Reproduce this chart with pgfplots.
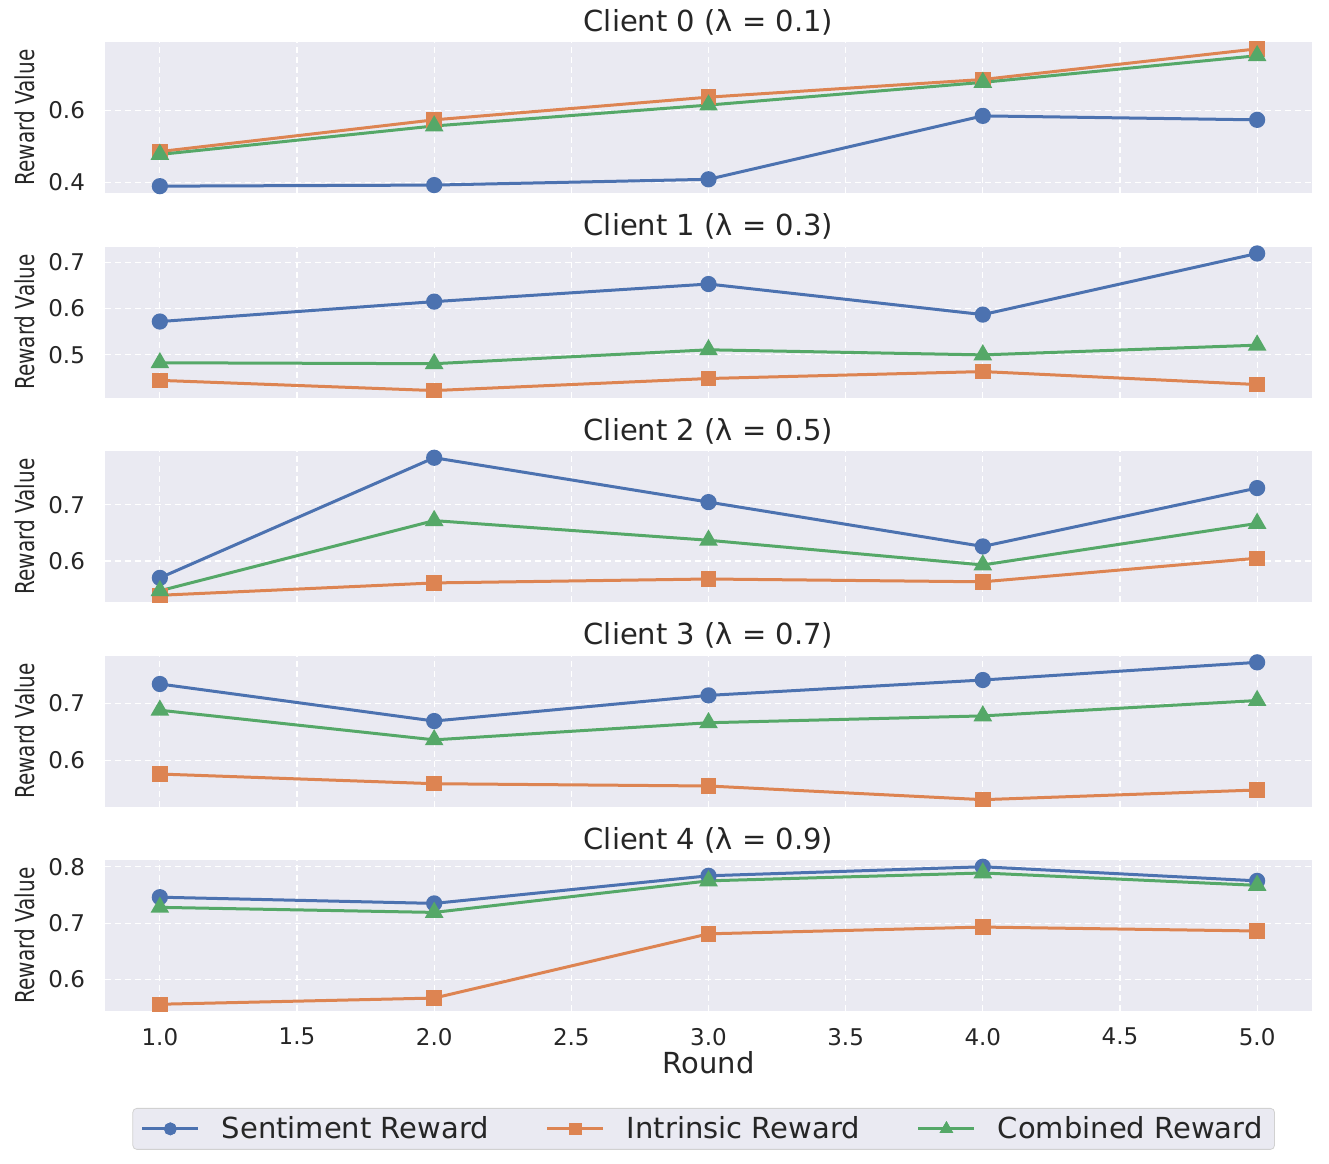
\documentclass[border=0pt]{standalone}
\usepackage{fontspec}
\setmainfont{DejaVu Sans}
\usepackage{pgfplots}
\pgfplotsset{compat=1.18}

\definecolor{cblue}{HTML}{4C72B0}
\definecolor{corange}{HTML}{DD8452}
\definecolor{cgreen}{HTML}{55A868}
\definecolor{bgc}{HTML}{EAEAF2}
\definecolor{txt}{HTML}{262626}

\pgfplotsset{
  panel/.style={
    scale only axis, width=603.5pt, height=75.5pt,
    xmin=0.8, xmax=5.2, xtick={1,1.5,...,5},
    axis background/.style={fill=bgc},
    axis line style={draw=none},
    major tick length=0pt,
    grid=major,
    major grid style={white, dash pattern=on 3pt off 2pt, line width=0.6pt},
    xticklabels={},
    /pgf/number format/assume math mode=true,
    yticklabel style={font=\fontsize{11.5}{13}\selectfont, text=txt, xshift=-6.5pt,
      /pgf/number format/.cd, fixed, fixed zerofill, precision=1},
    xticklabel style={font=\fontsize{11.5}{13}\selectfont, text=txt, yshift=-5pt,
      /pgf/number format/.cd, fixed, fixed zerofill, precision=1},
    title style={font=\fontsize{14.5}{17}\selectfont, text=txt, yshift=-6pt},
    ylabel={\scalebox{0.77}[1]{Reward Value}},
    ylabel style={font=\fontsize{13}{15}\selectfont, text=txt},
    xlabel style={font=\fontsize{14.5}{17}\selectfont, text=txt, yshift=4pt},
  },
  sent/.style={color=cblue, line width=1.5pt, mark=*, mark size=3.3pt, mark options={solid}},
  intr/.style={color=corange, line width=1.5pt, mark=square*, mark size=3.1pt, mark options={solid}},
  comb/.style={color=cgreen, line width=1.5pt, mark=triangle*, mark size=3.9pt, mark options={solid}},
}

\begin{document}
\begin{tikzpicture}
% Client 0
\begin{axis}[panel, at={(0,0)}, anchor=north west,
  title={Client 0 (λ = 0.1)}, ymin=0.370, ymax=0.789, ytick={0.4,0.6}]
\addplot[sent] coordinates {(1,0.389) (2,0.392) (3,0.408) (4,0.584) (5,0.573)};
\addplot[intr] coordinates {(1,0.485) (2,0.573) (3,0.636) (4,0.685) (5,0.770)};
\addplot[comb] coordinates {(1,0.477) (2,0.556) (3,0.614) (4,0.677) (5,0.751)};
\end{axis}
% Client 1
\begin{axis}[panel, at={(0,-102.25pt)}, anchor=north west,
  title={Client 1 (λ = 0.3)}, ymin=0.408, ymax=0.734, ytick={0.5,0.6,0.7}]
\addplot[sent] coordinates {(1,0.572) (2,0.615) (3,0.653) (4,0.587) (5,0.719)};
\addplot[intr] coordinates {(1,0.445) (2,0.423) (3,0.449) (4,0.464) (5,0.436)};
\addplot[comb] coordinates {(1,0.483) (2,0.481) (3,0.511) (4,0.500) (5,0.521)};
\end{axis}
% Client 2
\begin{axis}[panel, at={(0,-204.5pt)}, anchor=north west,
  title={Client 2 (λ = 0.5)}, ymin=0.527, ymax=0.796, ytick={0.6,0.7}]
\addplot[sent] coordinates {(1,0.570) (2,0.784) (3,0.705) (4,0.626) (5,0.730)};
\addplot[intr] coordinates {(1,0.539) (2,0.561) (3,0.568) (4,0.563) (5,0.605)};
\addplot[comb] coordinates {(1,0.547) (2,0.672) (3,0.637) (4,0.593) (5,0.667)};
\end{axis}
% Client 3
\begin{axis}[panel, at={(0,-306.75pt)}, anchor=north west,
  title={Client 3 (λ = 0.7)}, ymin=0.519, ymax=0.784, ytick={0.6,0.7}]
\addplot[sent] coordinates {(1,0.734) (2,0.669) (3,0.714) (4,0.741) (5,0.772)};
\addplot[intr] coordinates {(1,0.576) (2,0.559) (3,0.555) (4,0.531) (5,0.548)};
\addplot[comb] coordinates {(1,0.688) (2,0.636) (3,0.666) (4,0.678) (5,0.705)};
\end{axis}
% Client 4
\begin{axis}[panel, at={(0,-409pt)}, anchor=north west,
  title={Client 4 (λ = 0.9)}, ymin=0.544, ymax=0.812, ytick={0.6,0.7,0.8},
  xticklabels={1.0,1.5,2.0,2.5,3.0,3.5,4.0,4.5,5.0},
  xlabel={Round},
  legend columns=3,
  legend style={at={(0.496,-0.642)}, anchor=north, fill=bgc, draw=black!18,
    rounded corners=2pt, font=\fontsize{14.5}{17}\selectfont, text=txt,
    inner xsep=4pt, inner ysep=2pt,
    /tikz/every odd column/.append style={column sep=9pt},
    /tikz/every even column/.append style={column sep=26.5pt}},
  legend cell align=left,
  legend image code/.code={\draw[#1, mark size=2.4pt] plot coordinates {(0pt,0pt)};
    \draw[#1, mark=none] (-14pt,0pt) -- (14pt,0pt);
    \draw[#1, mark size=2.4pt] plot coordinates {(0pt,0pt)};}]
\addplot[sent] coordinates {(1,0.746) (2,0.735) (3,0.784) (4,0.800) (5,0.775)};
\addlegendentry{Sentiment Reward}
\addplot[intr] coordinates {(1,0.556) (2,0.567) (3,0.681) (4,0.693) (5,0.686)};
\addlegendentry{Intrinsic Reward}
\addplot[comb] coordinates {(1,0.728) (2,0.719) (3,0.775) (4,0.789) (5,0.767)};
\addlegendentry{Combined Reward}
\end{axis}
\pgfresetboundingbox
\path (-52.5pt,21pt) rectangle (612pt,-560.5pt);
\end{tikzpicture}
\end{document}
